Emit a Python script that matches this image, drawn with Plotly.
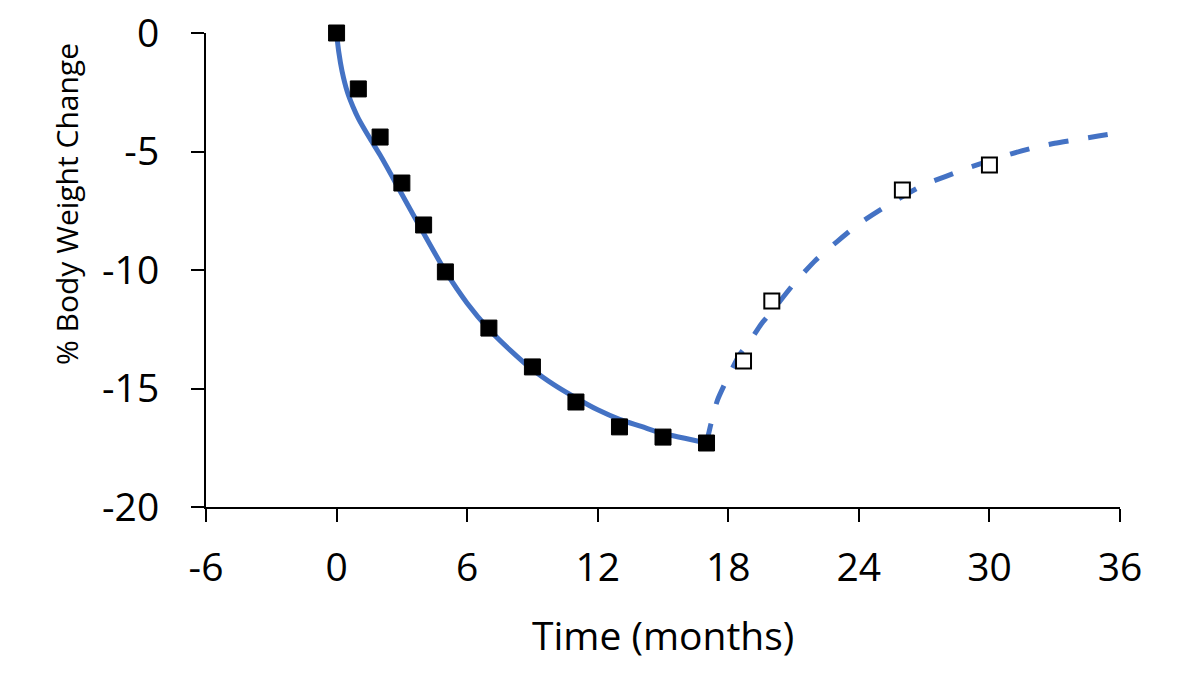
import plotly.graph_objects as go

# Measured data (filled squares: weight loss phase)
loss_months = [0, 1, 2, 3, 4, 5, 7, 9, 11, 13, 15, 17]
loss_values = [0, -2.36, -4.39, -6.33, -8.1, -10.08, -12.45, -14.09, -15.57, -16.62, -17.05, -17.3]

# Measured data (open squares: regain phase)
regain_months = [18.7, 20, 26, 30]
regain_values = [-13.84, -11.31, -6.62, -5.57]

# Model curve, loss phase (solid)
fit_loss_x = [0, 0.1, 0.25, 0.5, 0.75, 1, 1.5, 2, 3, 4, 5, 6, 7, 8, 9, 10, 11, 12, 13, 14, 15, 16, 17]
fit_loss_y = [0, -0.8, -1.6, -2.5, -3.1, -3.6, -4.4, -5.15, -6.8, -8.45, -10.05, -11.4, -12.5,
              -13.4, -14.2, -14.85, -15.4, -15.9, -16.3, -16.6, -16.9, -17.1, -17.3]

# Model curve, regain phase (dashed)
fit_regain_x = [17, 17.2, 17.5, 18, 18.5, 19, 19.5, 20, 21, 22, 23, 24, 25, 26, 27, 28, 29, 30,
                31, 32, 33, 34, 35, 36]
fit_regain_y = [-17.3, -16.5, -15.5, -14.5, -13.6, -13.0, -12.3, -11.75, -10.6, -9.6, -8.8, -8.05,
                -7.45, -6.9, -6.4, -6.05, -5.7, -5.4, -5.1, -4.85, -4.65, -4.5, -4.35, -4.2]

x_ticks = [-6, 0, 6, 12, 18, 24, 30, 36]
y_ticks = [0, -5, -10, -15, -20]

BLUE = "#4472C4"
FONT = "Open Sans"

fig = go.Figure()
fig.add_trace(go.Scatter(x=fit_loss_x, y=fit_loss_y, mode="lines", cliponaxis=False,
                         line=dict(color=BLUE, width=5, shape="spline", smoothing=0.8),
                         hoverinfo="skip"))
fig.add_trace(go.Scatter(x=fit_regain_x, y=fit_regain_y, mode="lines", cliponaxis=False,
                         line=dict(color=BLUE, width=5, dash="20px,20px", shape="spline", smoothing=0.6),
                         hoverinfo="skip"))
fig.add_trace(go.Scatter(x=loss_months, y=loss_values, mode="markers", cliponaxis=False,
                         marker=dict(symbol="square", size=16, color="black",
                                     line=dict(color="black", width=1))))
fig.add_trace(go.Scatter(x=regain_months, y=regain_values, mode="markers", cliponaxis=False,
                         marker=dict(symbol="square", size=15, color="white",
                                     line=dict(color="black", width=2))))

fig.update_layout(
    width=1200, height=687,
    margin=dict(l=206, r=80, t=33, b=180, autoexpand=False),
    paper_bgcolor="white", plot_bgcolor="white",
    showlegend=False,
    font=dict(family=FONT, color="black", size=39),
    xaxis=dict(range=[-6, 36], tickvals=x_ticks, ticktext=[str(v) for v in x_ticks],
               showgrid=False, zeroline=False, showline=True, linecolor="black", linewidth=2,
               ticks="outside", ticklen=13, tickwidth=2, tickcolor="black", automargin=False,
               ticklabelstandoff=12, tickfont=dict(size=39, family=FONT)),
    yaxis=dict(range=[-20, 0], tickvals=y_ticks, ticktext=[str(v) for v in y_ticks],
               showgrid=False, zeroline=False, showline=True, linecolor="black", linewidth=2,
               ticks="outside", ticklen=13, tickwidth=2, tickcolor="black", automargin=False,
               ticklabelstandoff=24, tickfont=dict(size=39, family=FONT)),
    annotations=[
        dict(text="Time (months)", xref="paper", yref="paper", x=0.5, y=0,
             yshift=-127, xanchor="center", yanchor="middle", showarrow=False,
             font=dict(size=39, family=FONT)),
        dict(text="% Body Weight Change", xref="paper", yref="paper", x=0, y=0.5,
             xshift=-140, yshift=66, xanchor="center", yanchor="middle", textangle=-90,
             showarrow=False, font=dict(size=30, family=FONT)),
    ],
)

fig.write_html("out.html")
